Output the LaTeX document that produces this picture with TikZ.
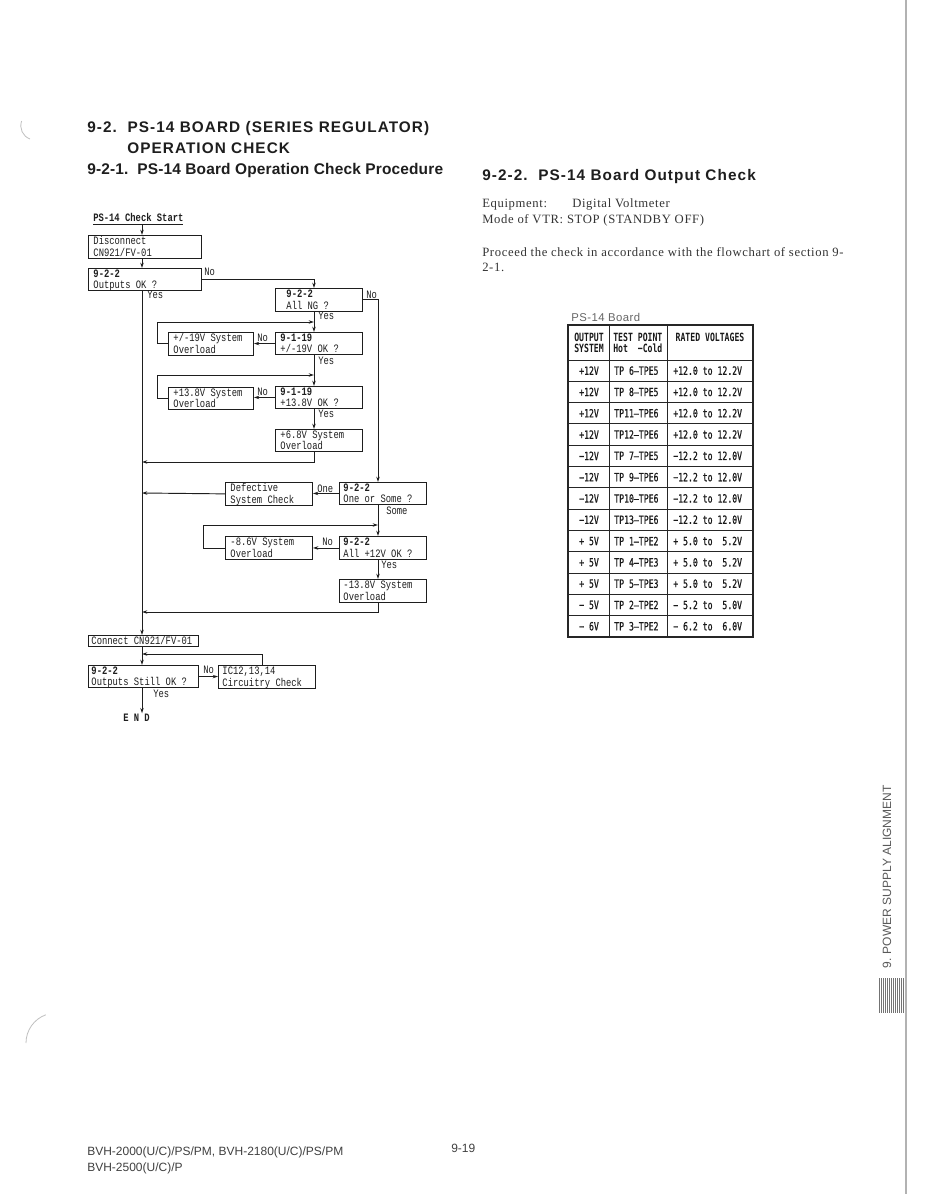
\documentclass[tikz,border=0pt]{standalone}
\usepackage{fontspec}
\usetikzlibrary{arrows.meta}
\setmainfont{Liberation Serif}
\newfontfamily\fcfont[FakeStretch=0.78]{Liberation Mono}
\newfontfamily\tbfont[FakeStretch=0.72,FakeBold=0.7]{DejaVu Sans Mono}
\newfontfamily\tbfontb[FakeStretch=0.72]{DejaVu Sans Mono Bold}
\newfontfamily\hdfont[LetterSpace=7]{Liberation Sans}
\newfontfamily\hdfontb[LetterSpace=1]{Liberation Sans}
\newfontfamily\bodyfont[LetterSpace=5]{Liberation Serif}
\newfontfamily\sansfont{Liberation Sans}
\newfontfamily\lightsans[LetterSpace=4]{Liberation Sans}
\newcommand\fcsize{\fontsize{8.5pt}{8pt}\selectfont}
\definecolor{ink}{HTML}{1E1E1E}
\newcommand\fcnode[7][5]{%
  \pgfmathsetmacro\fctw{(#5-2*#1)*0.75}%
  \pgfmathsetmacro\fcmh{#6*0.75}%
  \pgfmathsetmacro\fcmw{#5*0.75}%
  \pgfmathsetmacro\fcis{#1*0.75}%
  \node[fbox, minimum width=\fcmw pt, minimum height=\fcmh pt, inner xsep=\fcis pt] (#2) at (#3,#4)
    {\makebox[\fctw pt][l]{\raisebox{-0.9pt}[\height][\depth]{\begin{tabular}{@{}l@{}}#7\end{tabular}}}};}
\begin{document}
\begin{tikzpicture}[x=0.75pt,y=-0.75pt,
  fbox/.style={draw=ink, line width=0.7pt, rectangle, anchor=north west, inner ysep=0pt, font=\fcsize\fcfont, text=ink},
  lbl/.style={font=\fcsize\fcfont, inner sep=0pt, anchor=base west, text=ink},
  arr/.style={draw=ink, line width=0.7pt, -{Stealth[length=4pt,width=2.6pt]}},
  tline/.style={draw=black!85, line width=0.7pt},
  tcell/.style={font=\fontsize{8.5pt}{9pt}\selectfont\tbfont, inner sep=0pt, text=black!90},
  thead/.style={font=\fontsize{8.5pt}{9pt}\selectfont\tbfontb, inner sep=0pt, text=black!90},
  hd/.style={font=\fontsize{11.5pt}{13pt}\selectfont\hdfont\bfseries, inner sep=0pt, anchor=base west, text=ink},
  hdb/.style={font=\fontsize{11.6pt}{13pt}\selectfont\hdfontb\bfseries, inner sep=0pt, anchor=base west, text=ink},
  body/.style={font=\fontsize{9.5pt}{11pt}\selectfont\bodyfont, inner sep=0pt, anchor=base west, text=black!80},
  foot/.style={font=\fontsize{9pt}{11pt}\selectfont\sansfont, inner sep=0pt, anchor=base west, text=black!75}
]
\useasboundingbox (0,0) rectangle (926,1194);
\fill[white] (0,0) rectangle (926,1194);

% ---------- headings ----------
\node[hd] (h1) at (87,133) {9-2.\ \ PS-14 BOARD (SERIES REGULATOR)};
\node[hd] (h2) at (127,154) {OPERATION CHECK};
\node[hdb] (h3) at (87,175) {9-2-1.\ \ PS-14 Board Operation Check Procedure};
\node[hd] (h4) at (482,181) {9-2-2.\ \ PS-14 Board Output Check};

% ---------- body text ----------
\node[body] (b1) at (482,208) {\makebox[67.5pt][l]{Equipment:}Digital Voltmeter};
\node[body] (b2) at (482,224) {Mode of VTR: STOP (STANDBY OFF)};
\node[body] (b3) at (482,257) {Proceed the check in accordance with the flowchart of section 9-};
\node[body] (b4) at (482,272) {2-1.};

% ---------- flowchart ----------
\coordinate (mx) at (142,0);
\coordinate (cx) at (314,0);
\coordinate (rx) at (378,0);
\coordinate (lx1) at (157,0);
\coordinate (lx2) at (203,0);
\coordinate (icx) at (262,0);

\node[lbl, anchor=base west] (start) at (93,222) {\bfseries\underline{PS-14 Check Start}};
\fcnode{disc}{88}{235}{113}{22}{Disconnect\\CN921/FV-01}
\fcnode{ook}{88}{268}{113}{21}{\bfseries 9-2-2\\Outputs OK ?}
\fcnode[11]{ang}{275}{288}{87}{23}{\bfseries 9-2-2\\All NG ?}
\fcnode{ov19}{168}{332}{85}{21}{+/-19V System\\Overload}
\fcnode{ok19}{275}{332}{87}{22}{\bfseries 9-1-19\\+/-19V OK ?}
\fcnode{ov13}{168}{387}{85}{21}{+13.8V System\\Overload}
\fcnode{ok13}{275}{386}{87}{22}{\bfseries 9-1-19\\+13.8V OK ?}
\fcnode{ov68}{275}{429}{87}{22}{+6.8V System\\Overload}
\fcnode{def}{225}{482}{87}{22}{Defective\\System Check}
\fcnode[4]{oos}{339}{482}{87}{22}{\bfseries 9-2-2\\One or Some ?}
\fcnode{ov86}{225}{536}{87}{23}{-8.6V System\\Overload}
\fcnode[4]{a12}{339}{536}{87}{23}{\bfseries 9-2-2\\All +12V OK ?}
\fcnode[4]{ov138}{339}{579}{87}{23}{-13.8V System\\Overload}
\fcnode[3]{conn}{88}{635}{110}{11}{Connect CN921/FV-01}
\fcnode[3]{still}{88}{665}{110}{22}{\bfseries 9-2-2\\Outputs Still OK ?}
\fcnode[4]{ic}{218}{665}{97}{23}{IC12,13,14\\Circuitry Check}
\node[lbl, anchor=base west] (end) at (123,721) {\bfseries E N D};

\coordinate (j19) at (314,322);
\coordinate (j13) at (314,375);
\coordinate (j68) at (142,462);
\coordinate (j86) at (378,525);
\coordinate (j138) at (142,612);
\coordinate (jic) at (142,654);
\coordinate (jdef) at (142,493);

\draw[arr] (start.south -| mx) -- (disc.north -| mx);
\draw[arr] (disc.south -| mx) -- (ook.north -| mx);
\draw[arr] (ook.east) -| (ang.north -| cx);
\node[lbl] at (204,276) {No};
\draw[arr] (ook.south -| mx) -- (conn.north -| mx);
\node[lbl] at (147,298) {Yes};
\draw[arr] (ang.south -| cx) -- (ok19.north -| cx);
\node[lbl] at (318,320) {Yes};
\draw[arr] (ang.east) -| (oos.north -| rx);
\node[lbl] at (366,298) {No};
\draw[arr] (ok19.west) -- (ov19.east |- ok19.west);
\node[lbl] at (257,341) {No};
\draw[arr] (ov19.west) -| (lx1 |- j19) -- (j19);
\draw[arr] (ok19.south -| cx) -- (ok13.north -| cx);
\node[lbl] at (318,364) {Yes};
\draw[arr] (ok13.west) -- (ov13.east |- ok13.west);
\node[lbl] at (257,395) {No};
\draw[arr] (ov13.west) -| (lx1 |- j13) -- (j13);
\draw[arr] (ok13.south -| cx) -- (ov68.north -| cx);
\node[lbl] at (318,417) {Yes};
\draw[arr] (ov68.south -| cx) |- (j68);
\draw[arr] (oos.west) -- (def.east |- oos.west);
\node[lbl] at (317,492) {One};
\draw[arr] (def.west) -- (jdef);
\draw[arr] (oos.south -| rx) -- (a12.north -| rx);
\node[lbl] at (386,514) {Some};
\draw[arr] (a12.west) -- (ov86.east |- a12.west);
\node[lbl] at (322,545) {No};
\draw[arr] (ov86.west) -| (lx2 |- j86) -- (j86);
\draw[arr] (a12.south -| rx) -- (ov138.north -| rx);
\node[lbl] at (381,568) {Yes};
\draw[arr] (ov138.south -| rx) |- (j138);
\draw[arr] (conn.south -| mx) -- (still.north -| mx);
\draw[arr] (still.east) -- (ic.west |- still.east);
\node[lbl] at (203,673) {No};
\draw[arr] (ic.north -| icx) |- (jic);
\draw[arr] (still.south -| mx) -- (end.north -| mx);
\node[lbl] at (153,697) {Yes};

% ---------- table ----------
\node[font=\fontsize{8.5pt}{10pt}\selectfont\lightsans, text=black!60, inner sep=0pt, anchor=base west] (tcap) at (571,321) {PS-14 Board};
\draw[tline, line width=1pt] (568,325) rectangle (753,637);
\draw[tline] (609,325) -- (609,637);
\draw[tline] (667,325) -- (667,637);
\foreach \i in {0,...,12} {
  \draw[tline] (568,{360+21.3*\i}) -- (753,{360+21.3*\i});
}
\node[thead, align=center] (th1) at (589,343) {OUTPUT\\[-0.5pt]SYSTEM};
\node[thead, align=left, anchor=west] (th2) at (613,343) {TEST POINT\\[-0.5pt]Hot~~−Cold};
\node[thead] (th3) at (710,337) {RATED VOLTAGES};
\foreach \a/\b/\c [count=\i] in {
  +12V/TP~6–TPE5/+12.0 to 12.2V,
  +12V/TP~8–TPE5/+12.0 to 12.2V,
  +12V/TP11–TPE6/+12.0 to 12.2V,
  +12V/TP12–TPE6/+12.0 to 12.2V,
  −12V/TP~7–TPE5/−12.2 to 12.0V,
  −12V/TP~9–TPE6/−12.2 to 12.0V,
  −12V/TP10–TPE6/−12.2 to 12.0V,
  −12V/TP13–TPE6/−12.2 to 12.0V,
  +~5V/TP~1–TPE2/+~5.0 to ~5.2V,
  +~5V/TP~4–TPE3/+~5.0 to ~5.2V,
  +~5V/TP~5–TPE3/+~5.0 to ~5.2V,
  −~5V/TP~2–TPE2/−~5.2 to ~5.0V,
  −~6V/TP~3–TPE2/−~6.2 to ~6.0V} {
  \node[tcell] (c1r\i) at (589,{360+21.3*(\i-0.5)}) {\a};
  \node[tcell, anchor=west] (c2r\i) at (614,{360+21.3*(\i-0.5)}) {\b};
  \node[tcell, anchor=west] (c3r\i) at (673,{360+21.3*(\i-0.5)}) {\c};
}

% ---------- side tab ----------
\draw[black!30, line width=1.2pt] (906,0) -- (906,1194);
\node[rotate=90, font=\fontsize{9pt}{10pt}\selectfont\sansfont, text=black!65, inner sep=0pt] (side) at (887,877) {9. POWER SUPPLY ALIGNMENT};
\foreach \i in {0,...,12} {
  \draw[black!55, line width=0.5pt] ({879+2*\i},978) -- ({879+2*\i},1013);
}

% ---------- scan marks ----------
\draw[black!25, line width=0.6pt] (30,139) arc[start angle=110, end angle=200, radius=14];
\draw[black!25, line width=0.6pt] (26,1043) arc[start angle=180, end angle=250, radius=30];

% ---------- footer ----------
\node[foot] (f1) at (87,1155) {BVH-2000(U/C)/PS/PM, BVH-2180(U/C)/PS/PM};
\node[foot] (f2) at (87,1171) {BVH-2500(U/C)/P};
\node[foot] (f3) at (451,1152) {9-19};
\end{tikzpicture}
\end{document}
